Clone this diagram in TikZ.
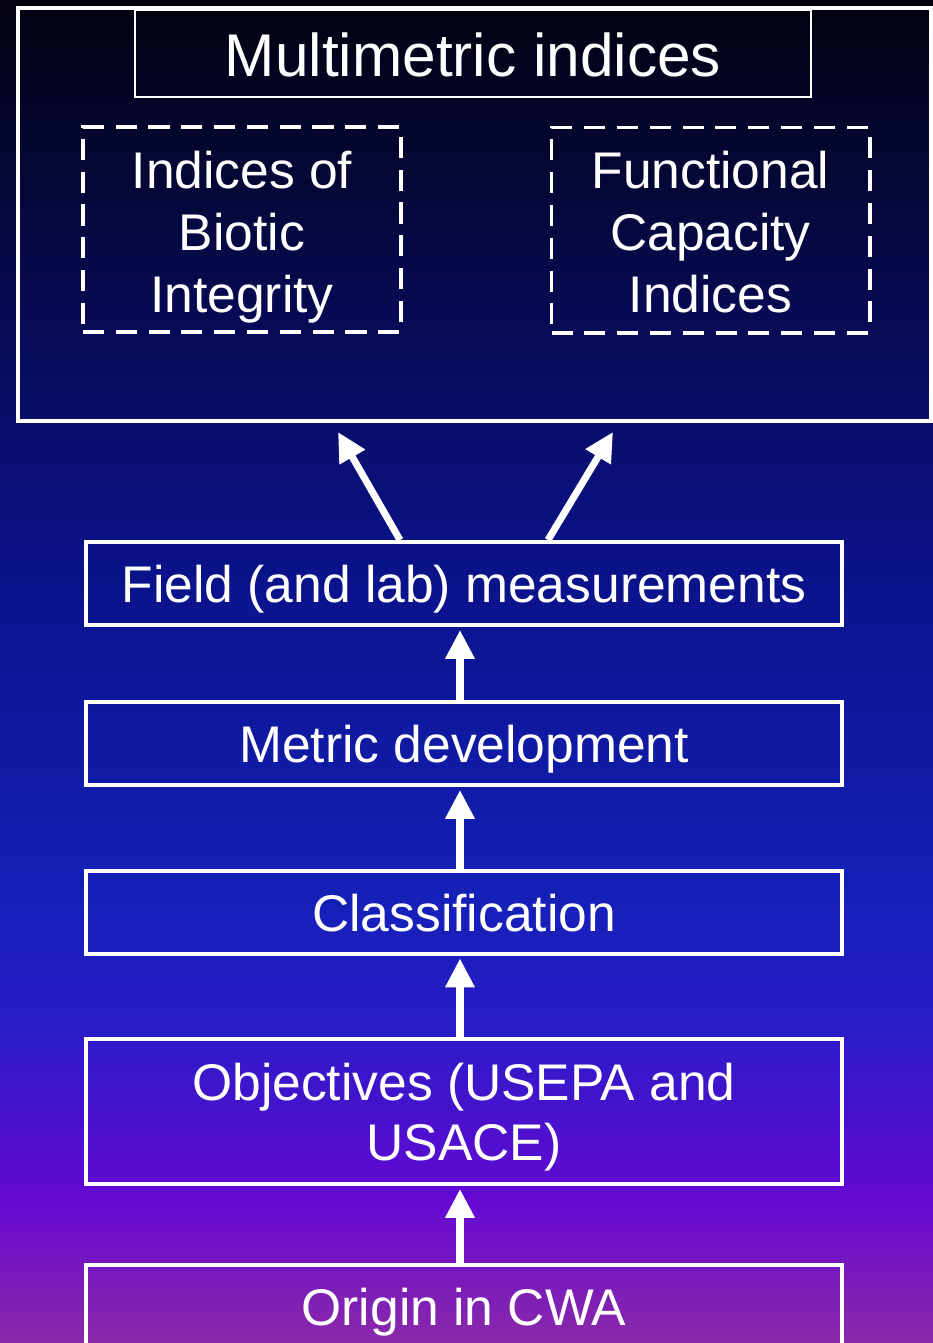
\documentclass[tikz,border=0pt]{standalone}
\usepackage{fontspec}
\setmainfont{Liberation Sans}
\usetikzlibrary{arrows.meta, positioning, calc}
\definecolor{bg_a}{RGB}{2, 2, 16}
\definecolor{bg_b}{RGB}{7, 10, 80}
\definecolor{bg_c}{RGB}{10, 18, 136}
\definecolor{bg_d}{RGB}{21, 32, 184}
\definecolor{bg_e}{RGB}{42, 28, 200}
\definecolor{bg_f}{RGB}{101, 8, 210}
\definecolor{bg_g}{RGB}{138, 42, 168}

\begin{document}
\begin{tikzpicture}[
    x=0.03cm, y=-0.03cm,
    outerbox/.style={
        rectangle,
        draw=white,
        line width=3.4pt,
        minimum width=27.39cm,
        minimum height=12.39cm
    },
    titlebox/.style={
        rectangle,
        draw=white,
        line width=1.3pt,
        minimum width=20.28cm,
        minimum height=2.61cm,
        text=white,
        text height=38.6pt,
        text depth=0pt,
        font=\fontsize{51.5}{60}\selectfont
    },
    subindex/.style={
        rectangle,
        draw=white,
        line width=3.4pt,
        dash pattern=on 18pt off 10pt,
        minimum width=9.54cm,
        minimum height=6.15cm,
        text=white,
        align=center,
        font=\fontsize{44}{52.7}\selectfont
    },
    stage/.style={
        rectangle,
        draw=white,
        line width=3.4pt,
        minimum width=22.68cm,
        minimum height=2.49cm,
        text=white,
        align=center,
        text height=33pt,
        text depth=0pt,
        font=\fontsize{44}{51}\selectfont
    },
    uparrow/.style={
        -{Triangle[length=24.7pt, width=23.8pt]},
        white,
        line width=6pt
    }
]

\useasboundingbox (0,0) rectangle (933,1343);

% Background gradient, in bands
\foreach \ya/\yb/\ca/\cb in {0/300/bg_a/bg_b, 300/560/bg_b/bg_c, 560/900/bg_c/bg_d,
    900/1030/bg_d/bg_e, 1030/1200/bg_e/bg_f, 1200/1343/bg_f/bg_g} {
    \shade[top color=\ca, bottom color=\cb] (0,\ya) rectangle (933,\yb+1);
}

% Multimetric indices block
\node[outerbox] (multi) at (474.5,214.5) {};
\node[titlebox] (title) at (473,53.5) {Multimetric indices};
\node[subindex] (ibi) at (242,229.5) {\rule{0pt}{1.02em}Indices of\\Biotic\\Integrity};
\node[subindex] (fci) at (710.5,230) {\rule{0pt}{0.81em}Functional\\Capacity\\Indices};

% Stages
\node[stage] (field) at (464,583.5) {Field (and lab) measurements};
\node[stage] (metric) at (464,743.5) {Metric development};
\node[stage] (classif) at (464,912) {Classification};
\node[stage, minimum height=4.35cm, text height=, text depth=] (objectives) at (464,1111.5)
    {\rule{0pt}{0.93em}Objectives (USEPA and\\USACE)};
\node[stage] (origin) at (464,1306) {Origin in CWA};

% Arrows
\draw[uparrow] ($(field.north)+(-64,0)$) -- ($(multi.south)+(-136.5,9)$);
\draw[uparrow] ($(field.north)+(84,0)$) -- ($(multi.south)+(138.5,9)$);
\draw[uparrow, shorten >=2.5pt] ([xshift=-0.12cm]metric.north) -- ([xshift=-0.12cm]field.south);
\draw[uparrow, shorten >=2.5pt] ([xshift=-0.12cm]classif.north) -- ([xshift=-0.12cm]metric.south);
\draw[uparrow, shorten >=2.5pt] ([xshift=-0.12cm]objectives.north) -- ([xshift=-0.12cm]classif.south);
\draw[uparrow, shorten >=2.5pt] ([xshift=-0.12cm]origin.north) -- ([xshift=-0.12cm]objectives.south);

\end{tikzpicture}
\end{document}
